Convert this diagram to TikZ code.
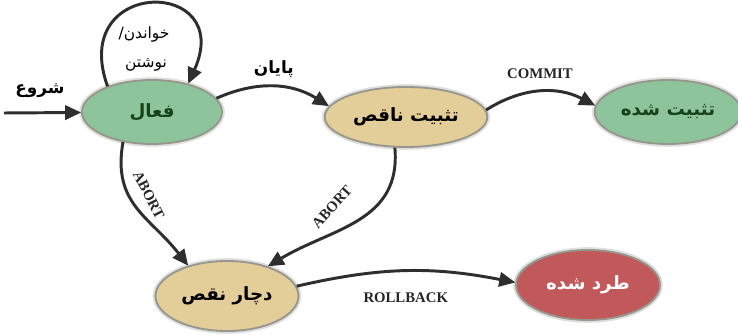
\documentclass[tikz,border=0pt]{standalone}
\usepackage{fontspec}
\usetikzlibrary{shapes,arrows,arrows.meta,positioning,calc}
\TeXXeTstate=1
\newfontfamily\fafont[Script=Arabic]{DejaVu Sans}
\newfontfamily\lblfont{Liberation Serif}
\definecolor{stgreen}{RGB}{141,196,156}
\definecolor{sttan}{RGB}{227,205,152}
\definecolor{stred}{RGB}{193,89,91}
\definecolor{stborder}{RGB}{150,150,140}
\definecolor{txtgreen}{RGB}{22,68,24}
\tikzset{
  state/.style={ellipse, draw=stborder, line width=1.3pt,
    preaction={draw=gray!25, line width=4pt},
    font=\fafont\bfseries\fontsize{13}{15}\selectfont},
  arr/.style={-{Triangle[length=0.4cm,width=0.36cm]}, line width=2.1pt, draw=black!82},
  lbl/.style={font=\fafont\bfseries\fontsize{12}{14}\selectfont},
  elbl/.style={font=\lblfont\bfseries\fontsize{10.5}{12}\selectfont, text=black!85}
}
\begin{document}
\begin{tikzpicture}
\useasboundingbox (0,0) rectangle (18.45,8.375);
\node[state, fill=stgreen, text=txtgreen, minimum width=3.5cm, minimum height=1.6cm] (active) at (3.8,5.575) {\beginR فعال\endR};
\node[state, fill=sttan, minimum width=3.55cm, minimum height=1.5cm] (partial) at (10.15,5.45) {\beginR تثبیت ناقص\endR};
\node[state, fill=stgreen, text=txtgreen, minimum width=3.375cm, minimum height=1.6cm] (committed) at (16.7,5.575) {\beginR تثبیت شده\endR};
\node[state, fill=sttan, minimum width=3.575cm, minimum height=1.75cm] (failed) at (5.675,0.975) {\beginR دچار نقص\endR};
\node[state, fill=stred, text=white, minimum width=3.6cm, minimum height=1.75cm] (aborted) at (14.7,1.25) {\beginR طرد شده\endR};

\coordinate (start) at (0.1,5.55);
\draw[arr] (start) -- (active);
\node[lbl] (startlbl) at (1.0,6.1) {\beginR شروع\endR};

\draw[arr] (active.150) .. controls (1.7,8.95) and (5.9,8.95) .. (active.38);
\node[font=\fafont\fontsize{11}{13}\selectfont] (rwlbl) at (3.6,7.5) {\beginR خواندن/\endR};
\node[font=\fafont\fontsize{11}{13}\selectfont] (rwlbl2) at (3.65,6.75) {\beginR نوشتن\endR};

\draw[arr] (active.12) to[bend left=28] node[above=2pt, lbl] {\beginR پایان\endR} (partial.172);
\draw[arr] (partial.5) to[bend left=30] node[above=5pt, elbl] {COMMIT} (committed.175);
\draw[arr] (active.226) to[out=-100,in=128,looseness=1.15] (failed.142);
\node[elbl, rotate=-63] (abort1) at (3.72,3.5) {ABORT};
\draw[arr] (partial.250) to[out=-85,in=31,looseness=1.1] (failed.36);
\node[elbl, rotate=48] (abort2) at (8.3,3.2) {ABORT};
\draw[arr] (failed.8) to[bend left=12] node[below=11pt, elbl] {ROLLBACK} (aborted.178);
\end{tikzpicture}
\end{document}
